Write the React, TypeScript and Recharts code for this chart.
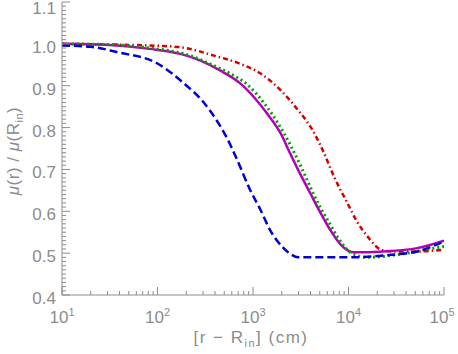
import React from 'react';
import { LineChart, Line, XAxis, YAxis } from 'recharts';

const blueX = [10, 20, 38, 100, 186, 302, 417, 537, 661, 933, 1200, 1510, 2090, 2510, 2950, 10500, 27500, 52500, 100000];
const blueY = [0.996, 0.993, 0.98, 0.953, 0.907, 0.861, 0.817, 0.774, 0.73, 0.651, 0.603, 0.555, 0.512, 0.497, 0.49, 0.49, 0.496, 0.504, 0.528];

const magX = [10, 32, 83, 174, 282, 457, 741, 1020, 1410, 1950, 2450, 2950, 3980, 5130, 6460, 8320, 11500, 23400, 52500, 100000];
const magY = [1.0, 0.997, 0.988, 0.976, 0.96, 0.936, 0.905, 0.873, 0.833, 0.786, 0.738, 0.7, 0.643, 0.595, 0.555, 0.52, 0.502, 0.504, 0.512, 0.53];

const greenX = [10, 32, 83, 219, 355, 575, 890, 1320, 1830, 2520, 3250, 4800, 6200, 7800, 10800, 16000, 35500, 67600, 100000];
const greenY = [1.0, 0.998, 0.99, 0.972, 0.952, 0.929, 0.901, 0.857, 0.81, 0.754, 0.702, 0.619, 0.575, 0.536, 0.5, 0.49, 0.498, 0.509, 0.516];

const redX = [10, 83, 174, 389, 741, 1200, 1950, 2880, 4170, 5370, 7080, 9770, 12300, 15800, 21900, 28200, 52500, 100000];
const redY = [1.0, 0.996, 0.992, 0.972, 0.952, 0.929, 0.889, 0.845, 0.795, 0.746, 0.682, 0.619, 0.575, 0.54, 0.508, 0.504, 0.504, 0.508];

const xMajor = [10, 100, 1000, 10000, 100000];
const xMinorMult = [2, 3, 4, 5, 6, 7, 8, 9];
const yMajor = [0.4, 0.5, 0.6, 0.7, 0.8, 0.9, 1.0, 1.1];
const yMajorLabels = ['0.4', '0.5', '0.6', '0.7', '0.8', '0.9', '1.0', '1.1'];

const xTicks: number[] = [];
xMajor.forEach((m, i) => {
  xTicks.push(m);
  if (i < xMajor.length - 1) xMinorMult.forEach((k) => xTicks.push(m * k));
});
const yTicks: number[] = [];
for (let i = 0; i <= 70; i++) yTicks.push(Math.round((0.4 + i * 0.01) * 100) / 100);

const toPts = (xs: number[], ys: number[]) => xs.map((x, i) => ({ x, y: ys[i] }));
const blueData = toPts(blueX, blueY);
const magData = toPts(magX, magY);
const greenData = toPts(greenX, greenY);
const redData = toPts(redX, redY);

const AX = '#8c8c8c';
const TXT = '#8c8c8c';
const FONT = 'Liberation Sans, Arial, sans-serif';

const isMajorX = (v: number) => xMajor.some((m) => Math.abs(m - v) < 1e-6);
const isMajorY = (v: number) => yMajor.some((m) => Math.abs(m - v) < 1e-6);

const BottomTick = (props: any) => {
  const { x, y, payload } = props;
  const v = payload.value;
  const major = isMajorX(v);
  const len = major ? 8 : 4;
  const exp = Math.round(Math.log10(v));
  const lx = v >= 100000 ? x - 2 : x;
  return (
    <g>
      <line x1={x} y1={y} x2={x} y2={y - len} stroke={AX} strokeWidth={1} />
      {major && (
        <text x={lx} y={y + 28} textAnchor="middle" fill={TXT} fontSize={17} fontFamily={FONT}>
          10<tspan dy={-7} fontSize={11}>{exp}</tspan>
        </text>
      )}
    </g>
  );
};

const TopTick = (props: any) => {
  const { x, y, payload } = props;
  const major = isMajorX(payload.value);
  const len = major ? 8 : 4;
  return <line x1={x} y1={y} x2={x} y2={y + len} stroke={AX} strokeWidth={1} />;
};

const LeftTick = (props: any) => {
  const { x, y, payload } = props;
  const v = payload.value;
  const major = isMajorY(v);
  const len = major ? 8 : 4;
  const idx = yMajor.findIndex((m) => Math.abs(m - v) < 1e-6);
  return (
    <g>
      <line x1={x} y1={y} x2={x + len} y2={y} stroke={AX} strokeWidth={1} />
      {major && (
        <text x={x - 6} y={Math.max(y + 9, 14)} textAnchor="end" fill={TXT} fontSize={17} fontFamily={FONT}>
          {yMajorLabels[idx]}
        </text>
      )}
    </g>
  );
};

const RightTick = (props: any) => {
  const { x, y, payload } = props;
  const major = isMajorY(payload.value);
  const len = major ? 8 : 4;
  return <line x1={x} y1={y} x2={x - len} y2={y} stroke={AX} strokeWidth={1} />;
};

export default function App() {
  return (
    <div style={{ position: 'absolute', left: 0, top: 0, width: 458, height: 354, background: '#fff' }}>
      <LineChart width={458} height={354} margin={{ top: 2, right: 14, left: 0, bottom: 0 }}>
        <XAxis
          xAxisId="b"
          dataKey="x"
          type="number"
          scale="log"
          domain={[10, 100000]}
          allowDataOverflow
          ticks={xTicks}
          interval={0}
          tick={BottomTick}
          tickLine={false}
          tickSize={0}
          tickMargin={0}
          axisLine={{ stroke: AX }}
          height={59}
        />
        <XAxis
          xAxisId="t"
          orientation="top"
          dataKey="x"
          type="number"
          scale="log"
          domain={[10, 100000]}
          allowDataOverflow
          ticks={xTicks}
          interval={0}
          tick={TopTick}
          tickLine={false}
          tickSize={0}
          tickMargin={0}
          axisLine={{ stroke: AX }}
          height={0}
        />
        <YAxis
          yAxisId="l"
          type="number"
          domain={[0.4, 1.1]}
          allowDataOverflow
          ticks={yTicks}
          interval={0}
          tick={LeftTick}
          tickLine={false}
          tickSize={0}
          tickMargin={0}
          axisLine={{ stroke: AX }}
          width={62}
        />
        <YAxis
          yAxisId="r"
          orientation="right"
          type="number"
          domain={[0.4, 1.1]}
          allowDataOverflow
          ticks={yTicks}
          interval={0}
          tick={RightTick}
          tickLine={false}
          tickSize={0}
          tickMargin={0}
          axisLine={{ stroke: AX }}
          width={0}
        />
        <Line xAxisId="b" yAxisId="l" data={redData} dataKey="y" type="monotone" stroke="#d40000" strokeWidth={2.5} strokeDasharray="5 3 1.5 3" dot={false} isAnimationActive={false} />
        <Line xAxisId="b" yAxisId="l" data={magData} dataKey="y" type="monotone" stroke="#b400b4" strokeWidth={2.5} dot={false} isAnimationActive={false} />
        <Line xAxisId="b" yAxisId="l" data={greenData} dataKey="y" type="monotone" stroke="#00a000" strokeWidth={3} strokeDasharray="2 3" dot={false} isAnimationActive={false} />
        <Line xAxisId="b" yAxisId="l" data={blueData} dataKey="y" type="monotone" stroke="#0000d4" strokeWidth={2.5} strokeDasharray="8 4" dot={false} isAnimationActive={false} />
        <text x={251} y={343} textAnchor="middle" fill={TXT} fontSize={17} letterSpacing={1.5} fontFamily={FONT}>
          [r − R<tspan dy={4} fontSize={11}>in</tspan><tspan dy={-4}>] (cm)</tspan>
        </text>
        <text x={0} y={0} transform="translate(19,151) rotate(-90)" textAnchor="middle" fill={TXT} fontSize={17} letterSpacing={0.5} fontFamily={FONT}>
          <tspan fontStyle="italic">μ</tspan>(r) / <tspan fontStyle="italic">μ</tspan>(R<tspan dy={4} fontSize={11}>in</tspan><tspan dy={-4}>)</tspan>
        </text>
      </LineChart>
    </div>
  );
}
